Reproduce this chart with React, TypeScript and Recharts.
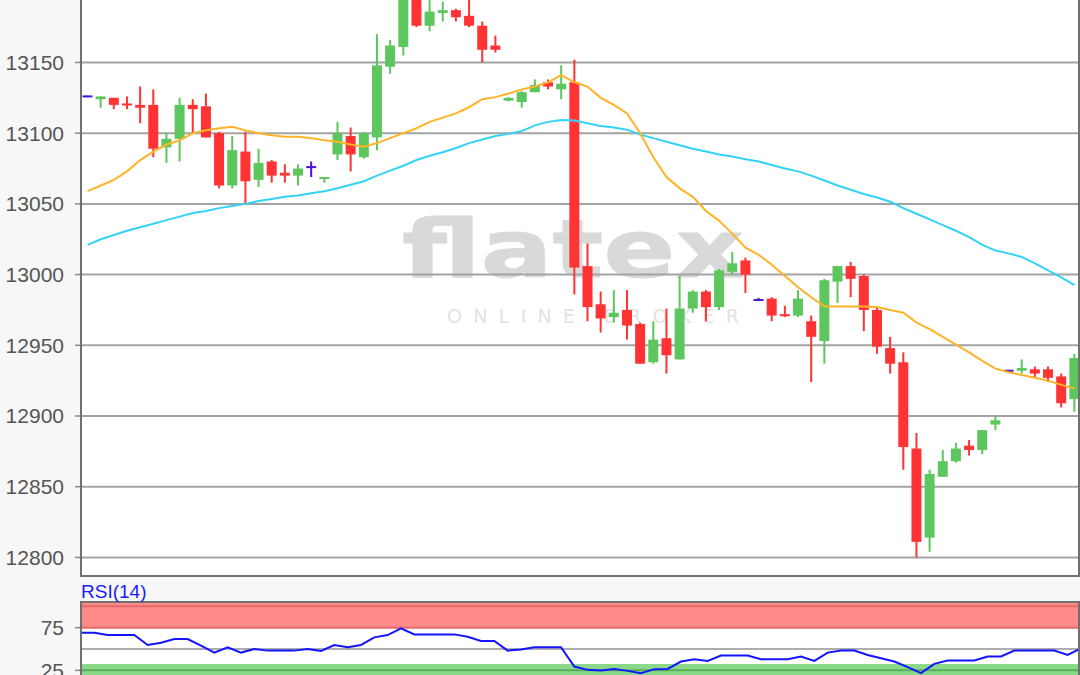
import React from 'react';
import {
  ComposedChart,
  Bar,
  Line,
  XAxis,
  YAxis,
  CartesianGrid,
  ReferenceArea,
  ReferenceLine,
} from 'recharts';

// ---- data ----
const OPEN = [
  13126, 13124, 13125, 13121, 13120, 13120, 13090, 13096, 13120, 13119,
  13100, 13063, 13087, 13067, 13080, 13072, 13070, 13076, 13068, 13085,
  13098, 13083, 13097, 13147, 13161, 13197, 13176, 13185, 13187, 13183,
  13176, 13162, 13123, 13122, 13129, 13136, 13131, 13136, 13006, 12979,
  12970, 12975, 12965, 12938, 12955, 12940, 12976, 12988, 12977, 13002,
  13010, 12982, 12983, 12972, 12971, 12967, 12953, 12995, 13006, 12999,
  12975, 12948, 12938, 12877, 12814, 12857, 12868, 12879, 12876, 12894,
  12932, 12932, 12933, 12933, 12928, 12912,
];
const HIGH = [
  13126.5, 13126, 13125, 13126, 13133, 13131, 13100, 13125, 13124, 13128,
  13101, 13098, 13101, 13089, 13081, 13078, 13078, 13080, 13069, 13108,
  13104, 13101, 13170, 13166, 13205, 13204, 13195, 13193, 13188, 13198,
  13179, 13169, 13125.5, 13130, 13138, 13138, 13148, 13152, 13022, 12988,
  12989, 12989, 12966, 12967, 12976, 12999, 12989, 12989, 13004, 13016,
  13012, 12983.5, 12984, 12978, 12989, 12971, 12997, 13006, 13009, 13000,
  12977, 12956, 12945, 12888, 12862, 12876, 12881, 12883, 12890, 12900,
  12932.5, 12940, 12935, 12935, 12930, 12944,
];
const LOW = [
  13125.5, 13118, 13117, 13117, 13107, 13083, 13079, 13080, 13100, 13097,
  13061, 13061, 13050, 13062, 13065, 13065, 13063, 13069, 13065, 13081,
  13073, 13082, 13088, 13142, 13155, 13175, 13172, 13179, 13179, 13175,
  13150, 13157, 13122.5, 13118, 13129, 13131, 13124, 12986, 12967, 12959,
  12966, 12954, 12937, 12937, 12930, 12940, 12973, 12967, 12975, 13000,
  12987, 12981.5, 12967, 12970, 12970, 12924, 12937, 12980, 12984, 12960,
  12944, 12930, 12862, 12800, 12804, 12857, 12867, 12872, 12873, 12890,
  12931.5, 12930, 12927, 12924, 12906, 12903,
];
const CLOSE = [
  13126, 13126, 13120, 13120, 13118, 13089, 13096, 13120, 13117, 13097,
  13063, 13088, 13066, 13079, 13070, 13070, 13075, 13076, 13069, 13100,
  13085, 13100, 13148, 13162, 13198, 13176, 13186, 13187, 13182, 13176,
  13159, 13159, 13125, 13129, 13134, 13133, 13135, 13005, 12977, 12969,
  12973, 12964, 12937, 12954, 12943, 12976, 12988, 12977, 13003, 13008,
  13000, 12982, 12971, 12971, 12983, 12956, 12996, 13006, 12997, 12975,
  12949, 12937, 12878, 12811, 12859, 12868, 12877, 12876, 12890, 12897,
  12932, 12934, 12930, 12927, 12909, 12941,
];
const MA_FAST = [
  13059, 13063, 13067, 13073, 13081, 13087, 13092, 13095, 13100, 13102,
  13103.5, 13104.5, 13102, 13100, 13098.5, 13097.5, 13097.5, 13096.5, 13095, 13094,
  13092, 13090.5, 13093, 13096.5, 13100, 13103.5, 13108, 13111, 13114, 13118.5,
  13124, 13125.5, 13128, 13131, 13133, 13136, 13141, 13136, 13133, 13125,
  13120, 13114, 13100, 13083, 13069, 13061, 13055, 13045, 13038, 13029,
  13019, 13014, 13007, 12999, 12991, 12984, 12977.5, 12977.5, 12977.5, 12977.5,
  12977, 12975, 12973, 12966, 12961.5, 12956, 12950.5, 12945, 12939, 12933.5,
  12931, 12929, 12927, 12925, 12922, 12919.5,
];
const MA_SLOW = [
  13021, 13025, 13028, 13031, 13033.5, 13036, 13038.5, 13041, 13043.5, 13045,
  13047, 13048.5, 13050, 13052, 13053.5, 13055, 13056, 13057.5, 13059, 13061,
  13063.5, 13066, 13070, 13073.5, 13077, 13081, 13084, 13086.5, 13089.5, 13093,
  13095.5, 13098, 13099.5, 13101.5, 13105.5, 13108, 13109.3, 13109, 13107, 13105,
  13104, 13102.5, 13099, 13096.5, 13094, 13091.5, 13089, 13087, 13085, 13083.5,
  13081.5, 13080, 13077.5, 13075, 13073, 13070, 13066.5, 13063, 13060, 13057,
  13054.5, 13051.5, 13047, 13043, 13039, 13035, 13031, 13026.5, 13021, 13017,
  13015, 13012.5, 13008, 13003, 12998, 12992.5,
];
const RSI = [
  69.1, 69.1, 66.3, 66.3, 66.3, 54.7, 57.4, 61.7, 61.7, 53.9,
  45.8, 52, 45.8, 50, 48.1, 48.1, 48.1, 50, 47.7, 54.7,
  52, 54.7, 63.6, 66.3, 74.1, 67, 67.1, 67.1, 67.1, 64.4,
  59.3, 59.3, 48.1, 49.3, 52, 52, 52, 29.5, 25.6, 24.9,
  26.7, 24.4, 21.7, 26.4, 26.7, 35.3, 38, 36, 42.3, 42.3,
  42.3, 38, 38, 38, 41.2, 36, 45.8, 48.1, 48.1, 43,
  39.2, 35.3, 28.7, 21.7, 32.6, 36.5, 36.5, 36.5, 41.2, 41.2,
  48.1, 48.1, 48.1, 48.1, 43, 50.8,
];
const PRICE_TICKS = [12800, 12850, 12900, 12950, 13000, 13050, 13100, 13150, 13200];
const RSI_TICKS = [25, 75];
const RSI_LABEL = 'RSI(14)';
const WATERMARK = 'flatex';
const WATERMARK_SUB = 'ONLINE BROKER';

const data = OPEN.map((o, i) => ({
  i,
  o,
  h: HIGH[i],
  l: LOW[i],
  c: CLOSE[i],
  range: [LOW[i], HIGH[i]],
  maFast: MA_FAST[i],
  maSlow: MA_SLOW[i],
  rsi: RSI[i],
}));

const FONT = '"Liberation Sans", Arial, sans-serif';
const GREEN = '#5ec65e';
const RED = '#ff3333';
const PURPLE = '#4a14d4';
const BG = '#f7f7f7';
const FRAME = '#707070';

const Candle = (props: any) => {
  const { x, y, width, height, payload } = props;
  if (!payload || x == null || y == null) return null;
  const { o, h, l, c } = payload;
  const top = Math.min(y, y + height);
  const hgt = Math.abs(height);
  const ppu = h > l ? hgt / (h - l) : 0;
  const py = (v: number) => top + (h - v) * ppu;
  const cx = x + width / 2;
  const bw = 10;
  const color = c > o ? GREEN : c < o ? RED : PURPLE;
  const bTop = py(Math.max(o, c));
  const bBot = py(Math.min(o, c));
  return (
    <g>
      {hgt > 0.5 && <rect x={cx - 1} y={top} width={2} height={hgt} fill={color} />}
      {c === o ? (
        <rect x={cx - bw / 2} y={py(c) - 1} width={bw} height={2} fill={color} />
      ) : (
        <rect
          x={cx - bw / 2}
          y={bTop}
          width={bw}
          height={Math.max(2, bBot - bTop)}
          fill={color}
        />
      )}
    </g>
  );
};

const tickStyle = { fill: '#555555', fontSize: 21, fontFamily: FONT };

export default function App() {
  return (
    <div
      style={{
        position: 'absolute',
        left: 0,
        top: 0,
        width: 1080,
        height: 675,
        overflow: 'hidden',
        background: BG,
        fontFamily: FONT,
      }}
    >
      {/* plot backgrounds */}
      <div style={{ position: 'absolute', left: 82, top: 0, width: 996, height: 575, background: '#fff' }} />
      <div style={{ position: 'absolute', left: 82, top: 603, width: 996, height: 72, background: '#fff' }} />

      {/* watermark */}
      <svg width={1080} height={675} style={{ position: 'absolute', left: 0, top: 0 }}>
        <text
          x={402}
          y={277}
          fontSize={80}
          fontWeight={700}
          fontFamily='"DejaVu Sans", sans-serif'
          fill="#d9d9d9"
          stroke="#d9d9d9"
          strokeWidth={1}
          strokeLinejoin="round"
          textLength={342}
          lengthAdjust="spacingAndGlyphs"
        >
          {WATERMARK}
        </text>
        <text
          x={447}
          y={323}
          fontSize={19}
          fontFamily='"DejaVu Sans", sans-serif'
          fill="#e2e2e2"
          textLength={292}
          lengthAdjust="spacing"
        >
          {WATERMARK_SUB}
        </text>
      </svg>

      {/* main price chart */}
      <div style={{ position: 'absolute', left: 0, top: -30 }}>
        <ComposedChart
          width={1081}
          height={606}
          data={data}
          margin={{ top: 0, right: 0, bottom: 0, left: 0 }}
          barCategoryGap={0}
        >
          <CartesianGrid horizontal vertical={false} stroke="#a3a3a3" strokeWidth={2} />
          <XAxis dataKey="i" type="category" hide />
          <YAxis
            width={81}
            domain={[12786.85, 13215.4]}
            allowDataOverflow
            ticks={PRICE_TICKS}
            interval={0}
            axisLine={false}
            tickLine={{ stroke: '#888', strokeWidth: 1.5 }}
            tickSize={6}
            tickMargin={11}
            tick={tickStyle}
          />
          <Bar dataKey="range" shape={<Candle />} isAnimationActive={false} />
          <Line
            dataKey="maSlow"
            type="linear"
            stroke="#33d3f7"
            strokeWidth={2}
            dot={false}
            isAnimationActive={false}
          />
          <Line
            dataKey="maFast"
            type="linear"
            stroke="#ffb327"
            strokeWidth={2}
            dot={false}
            isAnimationActive={false}
          />
        </ComposedChart>
      </div>

      {/* RSI chart */}
      <div style={{ position: 'absolute', left: 0, top: 602 }}>
        <ComposedChart
          width={1081}
          height={94}
          data={data}
          margin={{ top: 0, right: 0, bottom: 0, left: 0 }}
        >
          <XAxis dataKey="i" type="category" hide />
          <YAxis
            width={81}
            domain={[-5, 105]}
            allowDataOverflow
            ticks={RSI_TICKS}
            interval={0}
            axisLine={false}
            tickLine={{ stroke: '#888', strokeWidth: 1.5 }}
            tickSize={6}
            tickMargin={11}
            tick={tickStyle}
          />
          <ReferenceArea y1={75} y2={105} fill="#ff8a8a" fillOpacity={1} stroke="none" ifOverflow="hidden" />
          <ReferenceArea y1={-5} y2={32.5} fill="#8ad88a" fillOpacity={1} stroke="none" ifOverflow="hidden" />
          <ReferenceLine y={100} stroke="#e46a6a" strokeWidth={2} />
          <ReferenceLine y={75} stroke="#e46a6a" strokeWidth={2} />
          <ReferenceLine y={25} stroke="#5aae5a" strokeWidth={2} />
          <ReferenceLine y={50} stroke="#adadad" strokeWidth={2} />
          <Line
            dataKey="rsi"
            type="linear"
            stroke="#1414ff"
            strokeWidth={2}
            dot={false}
            isAnimationActive={false}
          />
        </ComposedChart>
      </div>

      {/* frames */}
      <div
        style={{
          position: 'absolute',
          left: 80,
          top: -32,
          width: 1000,
          height: 609,
          border: `2px solid ${FRAME}`,
          boxSizing: 'border-box',
        }}
      />
      <div
        style={{
          position: 'absolute',
          left: 80,
          top: 601,
          width: 1000,
          height: 200,
          border: `2px solid ${FRAME}`,
          boxSizing: 'border-box',
        }}
      />

      {/* RSI title */}
      <svg width={1080} height={675} style={{ position: 'absolute', left: 0, top: 0, pointerEvents: 'none' }}>
        <text x={81} y={598} fontSize={19} fontFamily={FONT} fill="#1a1aff">
          {RSI_LABEL}
        </text>
      </svg>
    </div>
  );
}
